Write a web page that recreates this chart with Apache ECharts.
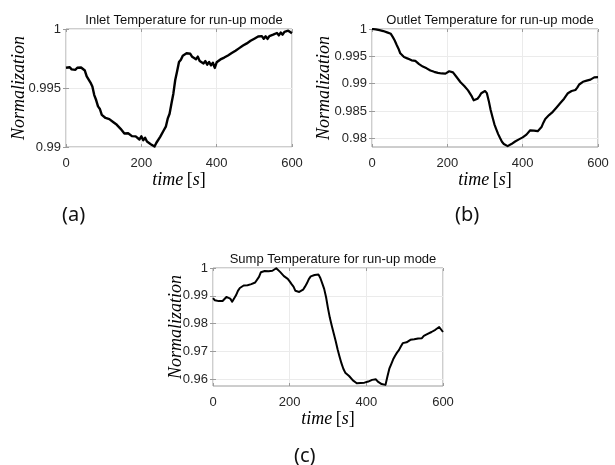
<!DOCTYPE html>
<html>
<head>
<meta charset="utf-8">
<title>Run-up mode temperatures</title>
<script src="https://cdn.jsdelivr.net/npm/echarts@6/dist/echarts.min.js"></script>
<style>
  html, body { margin: 0; padding: 0; background: #ffffff; }
  #chart { width: 615px; height: 465px; }
</style>
</head>
<body>
<div id="chart"></div>
<script>
// Sample times in seconds (one reading every 5 s)
const time = [];
for (let t = 0; t <= 600; t += 5) time.push(t);

const xTicks = [0, 200, 400, 600];

// Normalized inlet temperature (noisy sensor trace)
const inlet = [
  0.99672, 0.99656, 0.99676, 0.99658, 0.99674, 0.99654, 0.99672, 0.99656, 0.99674, 0.99658,
  0.99648, 0.99598, 0.99596, 0.99546, 0.99512, 0.99440, 0.99398, 0.99344, 0.99322, 0.99272,
  0.99258, 0.99246, 0.99246, 0.99236, 0.99240, 0.99212, 0.99214, 0.99188, 0.99186, 0.99154,
  0.99148, 0.99114, 0.99120, 0.99116, 0.99116, 0.99092, 0.99096, 0.99090, 0.99088, 0.99064,
  0.99090, 0.99058, 0.99078, 0.99046, 0.99054, 0.99024, 0.99024, 0.99004, 0.99036, 0.99042,
  0.99086, 0.99094, 0.99144, 0.99172, 0.99240, 0.99282, 0.99368, 0.99452, 0.99568, 0.99642,
  0.99720, 0.99740, 0.99774, 0.99764, 0.99794, 0.99790, 0.99790, 0.99764, 0.99776, 0.99744,
  0.99766, 0.99728, 0.99736, 0.99708, 0.99728, 0.99698, 0.99720, 0.99692, 0.99714, 0.99670,
  0.99718, 0.99714, 0.99742, 0.99732, 0.99758, 0.99750, 0.99776, 0.99768, 0.99796, 0.99788,
  0.99816, 0.99812, 0.99838, 0.99832, 0.99860, 0.99852, 0.99878, 0.99874, 0.99900, 0.99892,
  0.99918, 0.99910, 0.99936, 0.99928, 0.99940, 0.99918, 0.99938, 0.99916, 0.99940, 0.99932,
  0.99952, 0.99944, 0.99966, 0.99946, 0.99970, 0.99952, 0.99976, 0.99966, 0.99986, 0.99974,
  0.99964
];
const inletTicks = [0.99, 0.995, 1];

// Normalized outlet temperature
const outlet = [
  1.00000, 0.99992, 0.99994, 0.99986, 0.99980, 0.99968, 0.99962, 0.99942, 0.99938, 0.99920,
  0.99912, 0.99856, 0.99794, 0.99716, 0.99644, 0.99556, 0.99524, 0.99486, 0.99482, 0.99458,
  0.99444, 0.99426, 0.99450, 0.99416, 0.99380, 0.99356, 0.99344, 0.99312, 0.99304, 0.99280,
  0.99266, 0.99240, 0.99238, 0.99216, 0.99214, 0.99198, 0.99204, 0.99186, 0.99194, 0.99184,
  0.99192, 0.99226, 0.99240, 0.99206, 0.99174, 0.99116, 0.99080, 0.99026, 0.99004, 0.98956,
  0.98924, 0.98876, 0.98844, 0.98766, 0.98694, 0.98666, 0.98724, 0.98766, 0.98824, 0.98846,
  0.98864, 0.98826, 0.98684, 0.98516, 0.98384, 0.98256, 0.98164, 0.98076, 0.98004, 0.97936,
  0.97894, 0.97860, 0.97856, 0.97858, 0.97894, 0.97906, 0.97940, 0.97950, 0.97980, 0.97986,
  0.98016, 0.98036, 0.98066, 0.98096, 0.98146, 0.98146, 0.98140, 0.98126, 0.98130, 0.98136,
  0.98204, 0.98286, 0.98354, 0.98386, 0.98424, 0.98446, 0.98484, 0.98506, 0.98564, 0.98596,
  0.98644, 0.98666, 0.98724, 0.98776, 0.98824, 0.98846, 0.98864, 0.98866, 0.98884, 0.98926,
  0.98984, 0.99006, 0.99034, 0.99036, 0.99054, 0.99056, 0.99074, 0.99086, 0.99114, 0.99126,
  0.99120
];
const outletTicks = [0.98, 0.985, 0.99, 0.995, 1];

// Normalized sump temperature
const sump = [
  0.98920, 0.98840, 0.98790, 0.98810, 0.98790, 0.98815, 0.98800, 0.98960, 0.99010, 0.98900,
  0.98790, 0.98850, 0.99020, 0.99180, 0.99280, 0.99340, 0.99370, 0.99360, 0.99380, 0.99370,
  0.99420, 0.99460, 0.99480, 0.99530, 0.99680, 0.99850, 0.99920, 0.99890, 0.99910, 0.99880,
  0.99860, 0.99900, 0.99950, 0.99990, 0.99920, 0.99860, 0.99800, 0.99710, 0.99650, 0.99610,
  0.99520, 0.99420, 0.99330, 0.99180, 0.99110, 0.99140, 0.99180, 0.99220, 0.99330, 0.99450,
  0.99600, 0.99700, 0.99730, 0.99750, 0.99820, 0.99770, 0.99640, 0.99450, 0.99250, 0.98950,
  0.98550, 0.98200, 0.97920, 0.97650, 0.97380, 0.97080, 0.96820, 0.96580, 0.96380, 0.96240,
  0.96180, 0.96120, 0.96050, 0.95960, 0.95900, 0.95860, 0.95850, 0.95870, 0.95860, 0.95880,
  0.95870, 0.95920, 0.95880, 0.95980, 0.96020, 0.96000, 0.95920, 0.95880, 0.95830, 0.95780,
  0.95800, 0.96100, 0.96380, 0.96550, 0.96720, 0.96850, 0.96960, 0.97050, 0.97180, 0.97300,
  0.97260, 0.97330, 0.97390, 0.97420, 0.97400, 0.97440, 0.97430, 0.97470, 0.97460, 0.97480,
  0.97560, 0.97600, 0.97630, 0.97660, 0.97700, 0.97720, 0.97780, 0.97840, 0.97880, 0.97790,
  0.97700
];
const sumpTicks = [0.96, 0.97, 0.98, 0.99, 1];

const titles = [
  'Inlet Temperature for run-up mode',
  'Outlet Temperature for run-up mode',
  'Sump Temperature for run-up mode'
];
const panelLabels = ['(a)', '(b)', '(c)'];

// Panel layout (pixel boxes for the three axes)
const panels = [
  { left: 66, top: 29, width: 226, height: 118, ymin: 0.99, ymax: 1, ticks: inletTicks, data: inlet, lw: 2.4, yGap: 38 },
  { left: 372, top: 29, width: 226, height: 118, ymin: 0.9784, ymax: 1, ticks: outletTicks, data: outlet, lw: 2.2, yGap: 39 },
  { left: 213, top: 268, width: 230, height: 118, ymin: 0.9576, ymax: 1, ticks: sumpTicks, data: sump, lw: 2.0, yGap: 28 }
];

const FRAME = '#9c9c9c';
const GRIDLINE = '#ebebeb';
const TICKTEXT = '#262626';
const SANS = '"Liberation Sans", Arial, Helvetica, sans-serif';
const SERIF = '"Liberation Serif", "DejaVu Serif", serif';

const italic = { fontFamily: SERIF, fontStyle: 'italic', fontSize: 18, color: '#000' };
const upright = { fontFamily: SERIF, fontStyle: 'normal', fontSize: 18, color: '#000' };

function fmt(v) { return String(+(+v).toFixed(4)); }

const grid = [], xAxis = [], yAxis = [], series = [], title = [];

panels.forEach((p, i) => {
  grid.push({
    left: p.left, top: p.top, width: p.width, height: p.height,
    show: true, borderColor: FRAME, borderWidth: 1, backgroundColor: '#fff'
  });
  title.push({
    text: titles[i],
    left: p.left + p.width / 2, top: p.top - 20, textAlign: 'center',
    textStyle: { fontFamily: SANS, fontSize: 13, fontWeight: 'normal', color: '#111' }
  });
  const xi = xAxis.length;
  xAxis.push({
    type: 'value', gridIndex: i, min: 0, max: 600, interval: 200, position: 'bottom',
    name: '{it|time} {up|[}{it|s}{up|]}', nameLocation: 'middle', nameGap: 24,
    nameMoveOverlap: false,
    nameTextStyle: { rich: { it: italic, up: upright } },
    axisLine: { show: false },
    axisTick: { show: true, inside: true, length: 3, lineStyle: { color: FRAME } },
    axisLabel: { margin: 10, fontFamily: SANS, fontSize: 13, color: TICKTEXT, customValues: xTicks },
    splitLine: { show: true, lineStyle: { color: GRIDLINE, width: 1 } }
  });
  xAxis.push({
    type: 'value', gridIndex: i, min: 0, max: 600, interval: 200, position: 'top',
    axisLine: { show: false }, axisLabel: { show: false }, splitLine: { show: false },
    axisTick: { show: true, inside: true, length: 3, lineStyle: { color: FRAME } }
  });
  const yi = yAxis.length;
  yAxis.push({
    type: 'value', gridIndex: i, min: p.ymin, max: p.ymax, position: 'left',
    name: 'Normalization', nameLocation: 'middle', nameGap: p.yGap,
    nameMoveOverlap: false,
    nameTextStyle: italic,
    axisLine: { show: false },
    axisTick: { show: true, inside: true, length: 3, lineStyle: { color: FRAME }, customValues: p.ticks },
    axisLabel: { margin: 5, fontFamily: SANS, fontSize: 13, color: TICKTEXT, customValues: p.ticks, formatter: fmt },
    splitLine: { show: true, lineStyle: { color: GRIDLINE, width: 1 } }
  });
  yAxis.push({
    type: 'value', gridIndex: i, min: p.ymin, max: p.ymax, position: 'right',
    axisLine: { show: false }, axisLabel: { show: false }, splitLine: { show: false },
    axisTick: { show: true, inside: true, length: 3, lineStyle: { color: FRAME }, customValues: p.ticks }
  });
  series.push({
    type: 'line', xAxisIndex: xi, yAxisIndex: yi,
    data: time.map((t, k) => [t, p.data[k]]),
    symbol: 'none', clip: true,
    lineStyle: { color: '#000', width: p.lw, join: 'round' },
    z: 5
  });
});

const chart = echarts.init(document.getElementById('chart'), null, { renderer: 'canvas' });
chart.setOption({
  animation: false,
  backgroundColor: '#fff',
  title, grid, xAxis, yAxis, series,
  graphic: [
    { type: 'text', left: 62, top: 205, style: { text: panelLabels[0], font: '20px "Noto Sans", sans-serif', fill: '#111' } },
    { type: 'text', left: 455, top: 205, style: { text: panelLabels[1], font: '20px "Noto Sans", sans-serif', fill: '#111' } },
    { type: 'text', left: 294, top: 446, style: { text: panelLabels[2], font: '20px "Noto Sans", sans-serif', fill: '#111' } }
  ]
});
</script>
</body>
</html>
